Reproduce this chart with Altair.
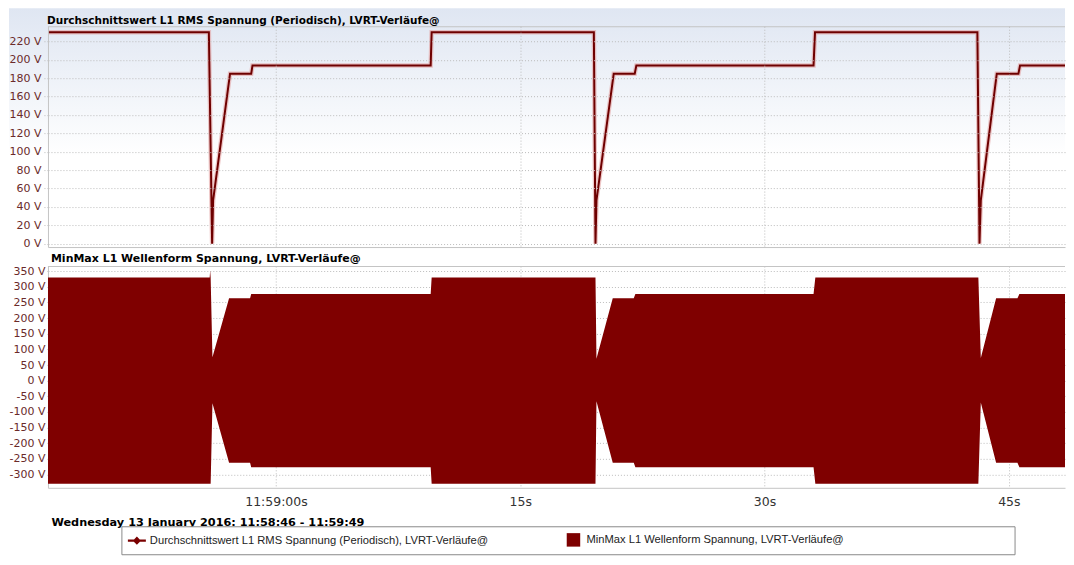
import altair as alt
import pandas as pd

# ---------------- data ----------------
# seconds after 11:58:46 (13 Jan 2016)
rms_t = [0, 9.88, 10.08, 10.14, 11.18, 12.48, 12.56, 23.50, 23.56,
         33.52, 33.62, 33.68, 34.74, 36.03, 36.13, 47.01, 47.10,
         57.07, 57.20, 57.28, 58.26, 59.59, 59.69, 63.0]
rms_v = [230, 230, 0, 47, 185, 185, 194, 194, 230,
         230, 0, 47, 185, 185, 194, 194, 230,
         230, 0, 47, 185, 185, 194, 194]

env_t = [0, 9.93, 9.96, 9.99, 10.10, 11.12, 12.41, 12.48, 23.50, 23.56,
         33.62, 33.68, 34.68, 35.97, 36.07, 47.01, 47.12,
         57.13, 57.28, 58.22, 59.53, 59.65, 63.0]
env_max = [329, 329, 352, 329, 75, 263, 263, 277, 277, 329,
           329, 70, 263, 263, 277, 277, 329,
           329, 72, 263, 263, 277, 277]
env_min = [-329, -329, -329, -329, -72, -262, -262, -276, -276, -329,
           -329, -66, -262, -262, -276, -276, -329,
           -329, -70, -262, -262, -276, -276]

x_tick_values = [14, 29, 44, 59]
x_tick_labels = ["11:59:00s", "15s", "30s", "45s"]
top_y_ticks = [0, 20, 40, 60, 80, 100, 120, 140, 160, 180, 200, 220]
bottom_y_ticks = [-300, -250, -200, -150, -100, -50, 0, 50, 100, 150, 200, 250, 300, 350]

series_names = ["Durchschnittswert L1 RMS Spannung (Periodisch), LVRT-Verläufe@",
                "MinMax L1 Wellenform Spannung, LVRT-Verläufe@"]
series_colors = ["#7a0000", "#7d0000"]
series_symbols = ["M-1,-0.13H1V0.13H-1Z M0,-0.45L0.45,0L0,0.45L-0.45,0Z",
                  "M-0.75,-0.75H0.75V0.75H-0.75Z"]

top_title = "Durchschnittswert L1 RMS Spannung (Periodisch), LVRT-Verläufe@"
bottom_title = "MinMax L1 Wellenform Spannung, LVRT-Verläufe@"
date_caption = "Wednesday 13 January 2016: 11:58:46 - 11:59:49"

# ---------------- styling ----------------
W, H1, H2 = 1018, 221, 222
X_END = 62.45          # visible part of the 63 s window (the original is cut at the right edge)
GRID = "#bcbcbc"
BORDER = "#c4c4c4"
LABEL_COLOR = "#6a2a2a"

rms_df = pd.DataFrame({"t": rms_t, "v": rms_v})
env_df = pd.DataFrame({"t": env_t, "vmax": env_max, "vmin": env_min})
legend_df = pd.DataFrame({"series": series_names})

x_scale = alt.Scale(domain=[0, X_END], nice=False, zero=False)
x_label_expr = " : ".join(f"datum.value == {v} ? '{l}'" for v, l in zip(x_tick_values, x_tick_labels)) + " : ''"

top_x_axis = alt.Axis(values=x_tick_values, labels=False, ticks=False, domain=True, domainColor=BORDER,
                      grid=True, gridDash=[1, 2], gridColor=GRID, title=None, zindex=1)
top_y_axis = alt.Axis(values=top_y_ticks, labelExpr="datum.value + ' V'", grid=True,
                      gridDash=[1, 2], gridColor=GRID, tickDash=[1, 2], tickColor=GRID,
                      tickSize=5, labelPadding=2, domain=True, domainColor=BORDER, title=None,
                      labelFont="DejaVu Sans", labelFontSize=11, labelColor=LABEL_COLOR, zindex=1)

bg = alt.Chart(alt.Data(values=[{"a": 1}])).mark_rect(
    fill=alt.Gradient(gradient="linear", x1=0, x2=0, y1=0, y2=1,
                      stops=[alt.GradientStop(color="#dfe6f2", offset=0),
                             alt.GradientStop(color="#ffffff", offset=0.62)])
).encode(x=alt.value(-39), x2=alt.value(W), y=alt.value(-18), y2=alt.value(H1))

top_border = alt.Chart(alt.Data(values=[{"a": 1}])).mark_rule(color=BORDER, strokeWidth=1).encode(
    x=alt.value(0), x2=alt.value(W), y=alt.value(0.5))

top_y_scale = alt.Scale(domain=[-3.7, 236.6], nice=False, zero=False)
halo = alt.Chart(rms_df).mark_line(color="#e3a0a0", strokeWidth=4.5, opacity=0.6, clip=True).encode(
    x=alt.X("t:Q", scale=x_scale, axis=top_x_axis),
    y=alt.Y("v:Q", scale=top_y_scale, axis=top_y_axis),
)
line = alt.Chart(rms_df).mark_line(color="#6e0000", strokeWidth=2, clip=True).encode(
    x=alt.X("t:Q", scale=x_scale, axis=top_x_axis),
    y=alt.Y("v:Q", scale=top_y_scale, axis=top_y_axis),
)

top = alt.layer(bg, top_border, halo, line).properties(
    width=W, height=H1,
    title=alt.TitleParams(top_title, anchor="start", frame="group", offset=6, baseline="alphabetic",
                          font="DejaVu Sans", fontSize=10.5, fontWeight="bold", color="#000000",
                          dx=-1, dy=32),
)

bottom_x_axis = alt.Axis(values=x_tick_values, labelExpr=x_label_expr, grid=True, gridDash=[1, 2],
                         gridColor=GRID, ticks=False, domain=True, domainColor=BORDER,
                         labelFont="DejaVu Sans",
                         labelFontSize=12.5, labelColor="#333333", labelPadding=8, labelFlush=False,
                         title=date_caption, titleAnchor="start", titleAlign="left", titleX=3, titleY=38,
                         titleBaseline="alphabetic", titleFont="DejaVu Sans", titleFontSize=11.3,
                         titleFontWeight="bold", titleColor="#000000")
bottom_y_axis = alt.Axis(values=bottom_y_ticks, labelExpr="datum.value + ' V'", grid=True,
                         gridDash=[1, 2], gridColor=GRID, tickDash=[1, 2], tickColor=GRID,
                         tickSize=3, labelPadding=0, domain=True, domainColor=BORDER, title=None,
                         labelFont="DejaVu Sans", labelFontSize=11, labelColor=LABEL_COLOR)

legend_box = alt.Chart(alt.Data(values=[{"a": 1}])).mark_rect(
    fill="white", stroke="#8a8a8a", strokeWidth=1
).encode(x=alt.value(74), x2=alt.value(968), y=alt.value(261), y2=alt.value(289))

bottom_border = alt.Chart(alt.Data(values=[{"a": 1}])).mark_rule(color=BORDER, strokeWidth=1).encode(
    x=alt.value(0), x2=alt.value(W), y=alt.value(0.5))

area = alt.Chart(env_df).mark_area(color="#7f0000", interpolate="linear", clip=True).encode(
    x=alt.X("t:Q", scale=x_scale, axis=bottom_x_axis),
    y=alt.Y("vmax:Q", scale=alt.Scale(domain=[-342, 366], nice=False, zero=False), axis=bottom_y_axis),
    y2="vmin:Q",
)

leg = alt.Legend(title=None, orient="none", legendX=80, legendY=505, direction="horizontal",
                 columns=2, columnPadding=76, symbolSize=324, symbolStrokeWidth=0,
                 labelFont="Liberation Sans", labelFontSize=11.2, labelColor="#222222", labelOffset=4,
                 labelLimit=500, padding=0)
legend_layer = alt.Chart(legend_df).transform_filter("false").mark_point(filled=True, opacity=1).encode(
    color=alt.Color("series:N", scale=alt.Scale(domain=series_names, range=series_colors), legend=leg),
    shape=alt.Shape("series:N", scale=alt.Scale(domain=series_names, range=series_symbols), legend=leg),
)

bottom = alt.layer(legend_box, bottom_border, area, legend_layer).properties(
    width=W, height=H2,
    title=alt.TitleParams(bottom_title, anchor="start", frame="group", offset=5, baseline="alphabetic",
                          font="DejaVu Sans", fontSize=11, fontWeight="bold", color="#000000",
                          dx=3, dy=13),
)

chart = alt.vconcat(top, bottom, spacing=19, bounds="flush").properties(
    padding={"left": 0, "top": 0, "right": 0, "bottom": 0},
    background="white",
).configure_view(stroke=None)

chart.save("out.html", embed_options={"renderer": "svg", "actions": False})
